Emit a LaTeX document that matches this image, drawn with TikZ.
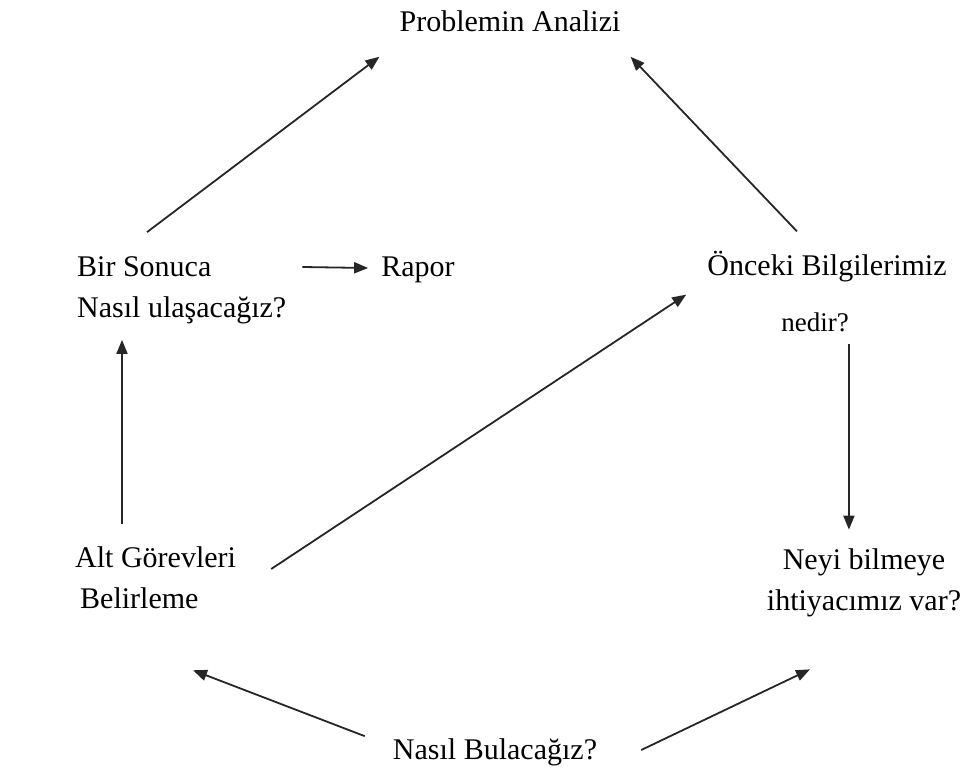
\documentclass[tikz,border=0pt]{standalone}
\usepackage{fontspec}
\setmainfont{Liberation Serif}
\usetikzlibrary{arrows.meta,calc}
\tikzset{
  metin/.style={inner sep=0pt, font=\fontsize{30}{41}\selectfont},
  ok/.style={line width=1.8pt, black!85, -{Triangle[length=14pt,width=11pt]}},
}
\begin{document}
\begin{tikzpicture}[x=1pt,y=-1pt]
  \useasboundingbox (0,0) rectangle (978,774);

  % Metinler
  \node[metin] (analiz) at (510,21) {Problemin Analizi};
  \node[metin, anchor=west, align=left] (sonuc) at (77,290) {Bir Sonuca\\Nasıl ulaşacağız?};
  \node[metin] (rapor) at (418,270) {Rapor};
  \node[metin] (onceki) at (827,267) {Önceki Bilgilerimiz};
  \node[metin, font=\fontsize{27}{30}\selectfont] (nedir) at (815,322) {nedir?};
  \node[metin, align=center] (neyi) at (864,583) {Neyi bilmeye\\ihtiyacımız var?};
  \node[metin, anchor=west, align=left] (alt) at (75,578) {Alt Görevleri\\\hspace*{5pt}Belirleme};
  \node[metin] (nasil) at (495,752) {Nasıl Bulacağız?};

  % Oklar
  \draw[ok] ($(sonuc.north west)+(70,-24)$) -- ($(analiz.south west)+(-20,25)$);
  \draw[ok] ($(onceki.north)+(-30,-20)$) -- ($(analiz.south east)+(10,25)$);
  \draw[ok] ($(sonuc.east |- rapor.west)+(16,-3)$) -- ($(rapor.west)+(-13,-2)$);
  \draw[ok] ($(nedir.south east)+(0,12)$) -- ($(nedir.south east |- neyi.north)+(0,-19)$);
  \draw[ok] ($(alt.north west)+(47,-23)$) -- ($(sonuc.south west)+(45,16)$);
  \draw[ok] ($(alt.east)+(35,-9)$) -- ($(onceki.south west)+(-21,12)$);
  \draw[ok] ($(nasil.north west)+(-28,-2)$) -- ($(alt.south west)+(118,61)$);
  \draw[ok] ($(nasil.east)+(44,-2)$) -- ($(neyi.south)+(-54,52)$);
\end{tikzpicture}
\end{document}
